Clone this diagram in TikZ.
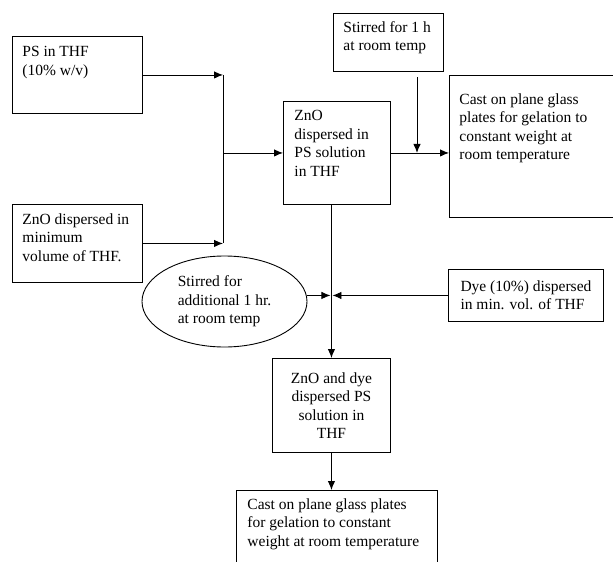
\documentclass[tikz,border=0pt]{standalone}
\usepackage{fontspec}
\setmainfont{Liberation Serif}
\usetikzlibrary{arrows.meta,shapes.geometric}

\begin{document}
\begin{tikzpicture}[x=1pt, y=-1pt, line width=0.9pt, >={Latex[length=9pt,width=7.5pt]},
squarednode/.style={rectangle, draw, inner sep=0pt, anchor=north west},
txt/.style={align=left, inner sep=0pt, anchor=north west},
ovalnode/.style={ellipse, draw, inner sep=0pt, minimum width=165pt, minimum height=91pt, align=left}]
\tikzstyle{every node}=[font=\fontsize{15.5}{18.5}\selectfont]
\useasboundingbox (0,0) rectangle (613,562);
% boxes
\node[squarednode, minimum width=130pt, minimum height=77pt] (ps) at (12,36) {};
\node[squarednode, minimum width=130pt, minimum height=78pt] (zno) at (12,204) {};
\node[squarednode, minimum width=107pt, minimum height=103pt] (mix) at (283,101) {};
\node[squarednode, minimum width=110pt, minimum height=58pt] (stir) at (333,13) {};
\node[squarednode, minimum width=176pt, minimum height=142pt] (cast) at (449,75) {};
\node[ovalnode] (ell) at (224.5,301.5) {Stirred for\\additional 1 hr.\\at room temp};
\node[squarednode, minimum width=155pt, minimum height=52pt, align=left] (dye) at (448,269) {Dye (10\%) dispersed\\in min. vol. of THF};
\node[squarednode, minimum width=118pt, minimum height=94pt, align=center] (mix2) at (272,358) {ZnO and dye\\dispersed PS\\solution in\\THF};
\node[squarednode, minimum width=201pt, minimum height=110pt] (cast2) at (236,490) {};
% texts
\node[txt] (tps) at ([xshift=10pt,yshift=-10pt]ps.north west) {PS in THF\\(10\% w/v)};
\node[txt] (tzno) at ([xshift=10pt,yshift=-9pt]zno.north west) {ZnO dispersed in\\minimum\\volume of THF.};
\node[txt] (tmix) at ([xshift=11pt,yshift=-9pt]mix.north west) {ZnO\\dispersed in\\PS solution\\in THF};
\node[txt] (tstir) at ([xshift=10pt,yshift=-8pt]stir.north west) {Stirred for 1 h\\at room temp};
\node[txt] (tcast) at ([xshift=10pt,yshift=-18pt]cast.north west) {Cast on plane glass\\plates for gelation to\\constant weight at\\room temperature};
\node[txt] (tcast2) at ([xshift=11pt,yshift=-8pt]cast2.north west) {Cast on plane glass plates\\for gelation to constant\\weight at room temperature};
% connectors
\coordinate (jx) at (223,0);
\coordinate (s) at (417,77);
\coordinate (m) at (dye.west -| mix2.north);
\draw[->] (ps.east) -- (ps.east -| jx);
\draw[->] (zno.east) -- (zno.east -| jx);
\draw (ps.east -| jx) -- (zno.east -| jx);
\draw[->] (mix.west -| jx) -- (mix.west);
\draw[->] (mix.east) -- (mix.east -| cast.west);
\draw[->] (s) -- (s |- mix.east);
\draw[->] (mix.south -| mix2.north) -- (mix2.north);
\draw[->] (ell.east |- dye.west) -- ([xshift=-1pt]m);
\draw[->] (dye.west) -- ([xshift=1pt]m);
\draw[->] (mix2.south) -- (mix2.south |- cast2.north);
\end{tikzpicture}
\end{document}
